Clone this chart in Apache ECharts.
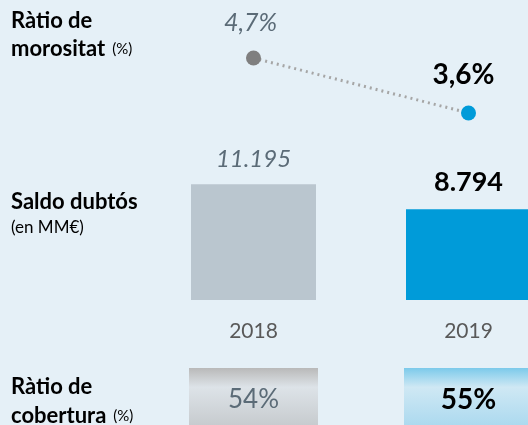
<!DOCTYPE html>
<html>
<head>
<meta charset="utf-8">
<script src="https://cdn.jsdelivr.net/npm/echarts@6/dist/echarts.min.js"></script>
<style>
  html, body { margin: 0; padding: 0; background: #e5f0f7; }
  #chart { width: 528px; height: 425px; }
</style>
</head>
<body>
<div id="chart"></div>
<script>
  // dades
  var years = ['2018', '2019'];
  var morosity = [4.7, 3.6];      // Ràtio de morositat (%)
  var doubtful = [11195, 8794];   // Saldo dubtós (MM€)
  var coverage = [54, 55];        // Ràtio de cobertura (%)

  var FONT = 'Lato';
  var gridLeft = 146, gridWidth = 430;   // centres de categoria a x~254 i x~468

  function fmtPct(v) { return String(v).replace('.', ',') + '%'; }
  function fmtThousands(v) { return String(v).replace(/\B(?=(\d{3})+(?!\d))/g, '.'); }

  // estil 2018 (gris, cursiva) / 2019 (negreta)
  var oldLabel = { color: '#5b6b77', fontStyle: 'italic', fontWeight: 'normal', fontFamily: FONT, fontSize: 25 };
  var newLabel = { color: '#000', fontStyle: 'normal', fontWeight: 'bold', fontFamily: FONT, fontSize: 28 };

  var chart = echarts.init(document.getElementById('chart'));

  var option = {
    backgroundColor: '#e5f0f7',
    animation: false,
    grid: [
      { left: gridLeft, width: gridWidth, top: 43, height: 100, outerBoundsMode: 'none' },   // línia morositat
      { left: gridLeft, width: gridWidth, top: 176, height: 124, outerBoundsMode: 'none' },  // barres saldo
      { left: gridLeft, width: gridWidth, top: 368, height: 64, outerBoundsMode: 'none' }    // caixes cobertura
    ],
    xAxis: [0, 1, 2].map(function (i) {
      return {
        type: 'category', gridIndex: i, data: years,
        axisLine: { show: false }, axisTick: { show: false }, splitLine: { show: false },
        axisLabel: i === 1 ? { show: true, color: '#595959', fontFamily: FONT, fontSize: 21, margin: 21 } : { show: false }
      };
    }),
    yAxis: [
      { type: 'value', gridIndex: 0, min: 3, max: 5, show: false },
      { type: 'value', gridIndex: 1, min: 0, max: 12000, show: false },
      { type: 'value', gridIndex: 2, min: 0, max: 1, show: false }
    ],
    series: [
      {
        type: 'line', xAxisIndex: 0, yAxisIndex: 0,
        symbol: 'circle', symbolSize: 15,
        lineStyle: { color: '#a6a6a6', width: 3, type: [2, 4] },
        data: morosity.map(function (v, i) {
          return {
            value: v,
            itemStyle: { color: i === 0 ? '#7f7f7f' : '#009bd9' },
            label: Object.assign({ show: true, position: 'top', distance: i === 0 ? 15 : 17,
              offset: i === 0 ? [-3, 0] : [-5, 0], formatter: fmtPct(v) }, i === 0 ? oldLabel : newLabel)
          };
        })
      },
      {
        type: 'bar', xAxisIndex: 1, yAxisIndex: 1, barWidth: 125,
        data: doubtful.map(function (v, i) {
          return {
            value: v,
            itemStyle: { color: i === 0 ? '#bac6cf' : '#009bd9' },
            label: Object.assign({ show: true, position: 'top', distance: 13, formatter: fmtThousands(v) }, i === 0
              ? Object.assign({}, oldLabel, { fontSize: 24 })
              : Object.assign({}, newLabel, { fontSize: 27 }))
          };
        })
      },
      {
        type: 'bar', xAxisIndex: 2, yAxisIndex: 2, barWidth: 129,
        data: coverage.map(function (v, i) {
          return {
            value: 1,
            itemStyle: {
              color: new echarts.graphic.LinearGradient(0, 0, 0, 1, i === 0 ? [
                { offset: 0, color: '#b9b9b9' },
                { offset: 0.3, color: '#dde3e8' },
                { offset: 1, color: '#c3c7ca' }
              ] : [
                { offset: 0, color: '#7ccaea' },
                { offset: 0.3, color: '#cfe8f4' },
                { offset: 1, color: '#a6d7ee' }
              ])
            },
            label: Object.assign({ show: true, position: 'inside', formatter: v + '%' }, i === 0
              ? { color: '#5b6b77', fontWeight: 'normal', fontFamily: FONT, fontSize: 26 }
              : { color: '#000', fontWeight: 'bold', fontFamily: FONT, fontSize: 28 })
          };
        })
      }
    ],
    graphic: [
      { type: 'text', left: 11, top: 10, style: { text: 'Ràtio de', font: 'bold 22px Lato', fill: '#000' } },
      { type: 'text', left: 11, top: 38, style: { text: '{b|morositat}{s|(%)}', rich: { b: { fontFamily: FONT, fontWeight: 'bold', fontSize: 22, color: '#000' }, s: { fontFamily: FONT, fontSize: 15, color: '#000', padding: [0, 0, 0, 7] } } } },
      { type: 'text', left: 11, top: 191, style: { text: 'Saldo dubtós', font: 'bold 22px Lato', fill: '#000' } },
      { type: 'text', left: 11, top: 219, style: { text: '(en MM€)', font: '17px Lato', fill: '#000' } },
      { type: 'text', left: 11, top: 376, style: { text: 'Ràtio de', font: 'bold 22px Lato', fill: '#000' } },
      { type: 'text', left: 11, top: 405, style: { text: '{b|cobertura}{s|(%)}', rich: { b: { fontFamily: FONT, fontWeight: 'bold', fontSize: 22, color: '#000' }, s: { fontFamily: FONT, fontSize: 15, color: '#000', padding: [0, 0, 0, 7] } } } }
    ]
  };

  chart.setOption(option);
</script>
</body>
</html>
